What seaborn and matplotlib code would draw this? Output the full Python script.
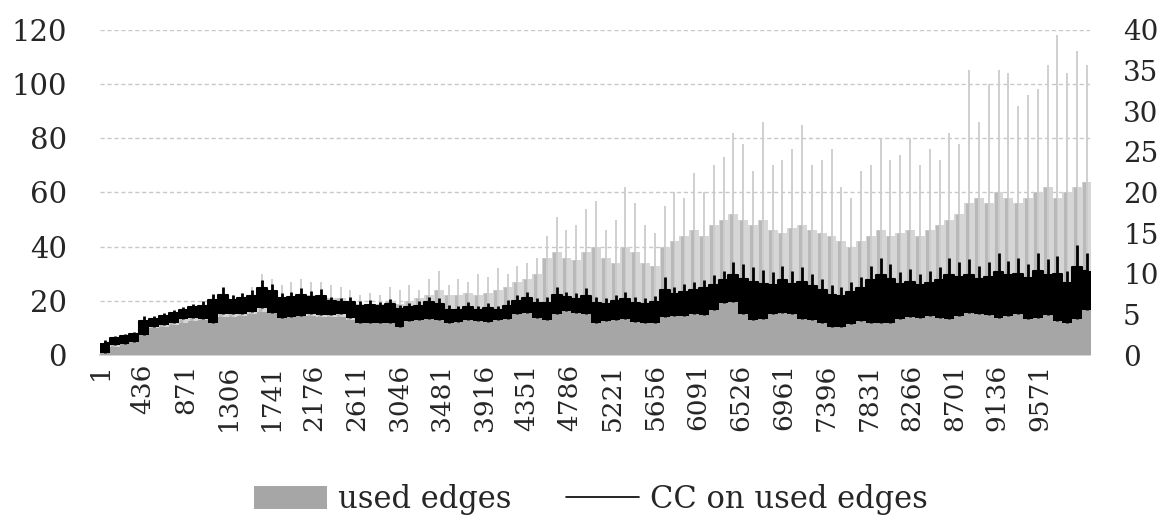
import numpy as np
import pandas as pd
import matplotlib
matplotlib.use("Agg")
import matplotlib.pyplot as plt
import seaborn as sns
from matplotlib.patches import Patch
from matplotlib.lines import Line2D

# series length (categories 1..N), values read per bin of 100 categories
N = 10080
BIN = 100

# used edges (left axis): solid top, dense mid-gray top, faint spike top
ue_base = [1, 3, 4, 5, 8, 10, 10.5, 11, 12, 12.5, 13, 12, 14, 14, 14.5, 15, 16, 16, 14, 14,
           14.5, 14.5, 14, 14, 14, 13, 12, 12, 12, 12, 11.5, 12.5, 13, 13.5, 13, 15, 15, 16, 15, 15,
           15.5, 17, 18, 19, 17, 17, 20, 20, 19, 20, 17, 17, 17, 18, 17, 16, 17, 21, 20, 21,
           21, 21, 23, 25, 27, 24, 23, 23, 23, 24, 23, 23, 22, 20, 18, 18, 19, 21, 22, 24,
           23, 22, 23, 22, 23, 23, 25, 24, 26, 25, 25, 26, 25, 26, 24, 26, 25, 25, 22, 26, 27]
ue_mid = [2, 5, 6, 7, 11, 12, 13, 14, 15, 16, 17, 18, 20, 19, 20, 21, 23, 22, 21, 21,
          22, 22, 22, 21, 21, 20, 19, 19, 19, 20, 19, 20, 21, 22, 24, 22, 22, 23, 22, 23,
          24, 25, 27, 28, 30, 36, 38, 36, 35, 38, 40, 36, 34, 40, 38, 34, 33, 40, 42, 44,
          46, 44, 48, 50, 52, 50, 48, 50, 46, 45, 47, 48, 46, 45, 44, 42, 40, 42, 44, 46,
          44, 45, 46, 44, 46, 48, 50, 52, 56, 58, 56, 60, 58, 56, 58, 60, 62, 58, 60, 62, 64]
ue_peak = [3, 6, 7, 8, 13, 14, 15, 16, 17, 18, 19, 21, 24, 22, 23, 25, 30, 28, 26, 27,
           28, 27, 27, 26, 25, 24, 22, 23, 22, 25, 24, 26, 24, 28, 31, 26, 28, 27, 30, 29,
           32, 30, 33, 34, 36, 44, 51, 46, 48, 54, 57, 46, 50, 62, 56, 48, 45, 55, 60, 58,
           67, 60, 70, 73, 82, 78, 68, 86, 70, 72, 76, 85, 70, 72, 76, 62, 58, 68, 70, 80,
           72, 74, 80, 70, 76, 72, 82, 78, 105, 86, 100, 105, 104, 92, 96, 98, 107, 118, 104, 112, 107]

# CC on used edges (right axis): band bottom, solid band top, spike top
cc_lo = [0.3, 1.2, 1.4, 1.6, 2.5, 3.5, 3.7, 4.0, 4.4, 4.6, 4.5, 4.0, 5.0, 5.0, 5.1, 5.3, 5.8, 5.2, 4.6, 4.7,
         4.8, 5.0, 4.9, 4.9, 5.0, 4.6, 3.9, 4.0, 3.9, 4.0, 3.4, 4.2, 4.3, 4.5, 4.3, 3.9, 4.1, 4.3, 4.2, 4.1,
         4.3, 4.5, 5.0, 5.2, 4.6, 4.3, 5.0, 5.4, 5.2, 5.0, 4.0, 4.2, 4.3, 4.4, 4.1, 3.9, 4.0, 4.7, 4.8, 4.8,
         5.0, 4.9, 5.5, 6.4, 6.5, 5.0, 4.3, 4.5, 5.0, 5.2, 5.0, 4.5, 4.3, 4.0, 3.5, 3.4, 3.8, 4.2, 3.9, 4.0,
         3.9, 4.5, 4.7, 4.6, 4.8, 4.6, 4.4, 4.8, 5.2, 5.0, 4.9, 4.6, 4.8, 5.0, 4.5, 4.6, 4.9, 4.2, 3.9, 4.4, 5.5]
cc_top = [1.5, 2.1, 2.3, 2.6, 4.2, 4.4, 4.8, 5.2, 5.5, 5.9, 6.1, 6.8, 7.4, 6.8, 7.0, 7.3, 8.2, 7.9, 7.0, 7.2,
          7.4, 7.2, 7.3, 6.6, 6.5, 6.5, 6.0, 6.2, 6.0, 6.3, 5.7, 5.9, 6.0, 6.5, 6.3, 5.6, 5.6, 5.9, 5.6, 5.8,
          5.6, 6.1, 6.7, 7.0, 6.4, 6.4, 7.4, 7.1, 6.9, 7.3, 6.4, 6.3, 6.6, 6.9, 6.4, 6.3, 6.5, 8.0, 7.5, 7.8,
          8.0, 8.2, 8.6, 9.2, 9.8, 9.4, 9.0, 8.8, 8.6, 9.2, 8.8, 9.0, 8.5, 8.0, 7.4, 7.3, 7.8, 8.3, 9.2, 9.8,
          9.4, 8.8, 9.0, 8.6, 8.9, 9.2, 9.8, 9.6, 9.9, 9.4, 9.6, 10.2, 9.8, 10.0, 9.5, 10.3, 9.9, 10.0, 8.9, 10.8, 10.4]
cc_hi = [1.8, 2.4, 2.6, 2.9, 4.8, 4.8, 5.2, 5.6, 5.9, 6.3, 6.6, 7.5, 8.4, 7.4, 7.6, 8.0, 9.2, 8.8, 7.6, 7.8,
         8.2, 7.9, 8.1, 7.2, 7.0, 7.2, 6.6, 6.8, 6.5, 6.9, 6.2, 6.4, 6.6, 7.2, 7.0, 6.2, 6.0, 6.5, 6.1, 6.4,
         6.0, 6.8, 7.4, 7.8, 7.0, 7.2, 8.4, 7.8, 7.6, 8.2, 7.2, 7.0, 7.4, 7.7, 7.2, 7.0, 7.3, 9.6, 8.4, 8.8,
         9.0, 9.2, 9.8, 10.3, 11.5, 11.2, 10.8, 10.5, 10.2, 11.0, 10.4, 10.8, 10.0, 9.4, 8.6, 8.4, 9.0, 9.6, 11.0, 12.0,
         11.2, 10.2, 10.6, 10.0, 10.4, 10.8, 12.0, 11.4, 11.8, 11.0, 11.4, 12.6, 11.6, 12.0, 11.2, 12.6, 11.8, 12.2, 10.4, 13.5, 12.5]

x_ticks = list(range(1, 9572, 435))

k = len(cc_lo)
edges = 1 + BIN * np.arange(k + 1)
mids = edges[:-1] + BIN // 2


def stepped(vals):
    # repeat the last value so the last bin gets its full width
    return np.r_[vals, vals[-1]]


sns.set_theme(style="white")
plt.rcParams["font.family"] = ["DejaVu Serif"]

fig = plt.figure(figsize=(11.63, 5.23), dpi=100)
ax = fig.add_axes([0.086, 0.321, 0.851, 0.622])

# used edges: light haze, textured mid spikes, faint tall spikes, solid area
ax.fill_between(edges, 0, stepped(ue_mid), step="post", color="#D6D6D6", lw=0, zorder=2)
ax.vlines(mids, 0, ue_peak, color="#CCCCCC", lw=1.3, zorder=3)
ax.vlines(edges[:-1] + 25, 0, ue_mid, color="#B9B9B9", lw=2.2, zorder=3)
ax.fill_between(edges, 0, stepped(ue_base), step="post", color="#A6A6A6", lw=0, zorder=4)

ax.set_xlim(1, N)
ax.set_ylim(0, 120)
ax.set_yticks(range(0, 121, 20))
ax.set_xticks(x_ticks)
ax.set_xticklabels([str(t) for t in x_ticks], rotation=90)
ax.grid(axis="y", color="#C8C8C8", lw=1, linestyle=(0, (3, 2)), zorder=0)
ax.set_axisbelow(True)
for s in ["left", "right", "top"]:
    ax.spines[s].set_visible(False)
ax.spines["bottom"].set_color("#D0D0D0")
ax.tick_params(axis="y", length=0, pad=24, labelsize=21)
ax.tick_params(axis="x", length=0, pad=6, labelsize=19)
ax.set_xlabel("")
ax.set_ylabel("")

# CC on used edges: solid core, spikes, stepped outline
ax2 = ax.twinx()
ax2.fill_between(edges, stepped(cc_lo), stepped(cc_top), step="post", color="black", lw=0, zorder=5)
ax2.vlines(mids, cc_lo, cc_hi, color="black", lw=2.0, zorder=6)
df = pd.DataFrame({"idx": mids, "cc": cc_top})
sns.lineplot(data=df, x="idx", y="cc", ax=ax2, color="black", lw=1.5,
             drawstyle="steps-mid", zorder=6)
ax2.set_ylim(0, 40)
ax2.set_yticks(range(0, 41, 5))
ax2.set_xlim(1, N)
ax2.set_xlabel("")
ax2.set_ylabel("")
for s in ax2.spines.values():
    s.set_visible(False)
ax2.tick_params(axis="y", length=0, pad=24, labelsize=20)

handles = [Patch(facecolor="#A6A6A6", edgecolor="none", label="used edges"),
           Line2D([0], [0], color="black", lw=1.2, label="CC on used edges")]
fig.legend(handles=handles, loc="center", bbox_to_anchor=(0.508, 0.045), ncol=2,
           frameon=False, fontsize=22, handlelength=2.4, handleheight=0.8,
           handletextpad=0.35, columnspacing=1.8)

fig.savefig("out.png", dpi=100)
